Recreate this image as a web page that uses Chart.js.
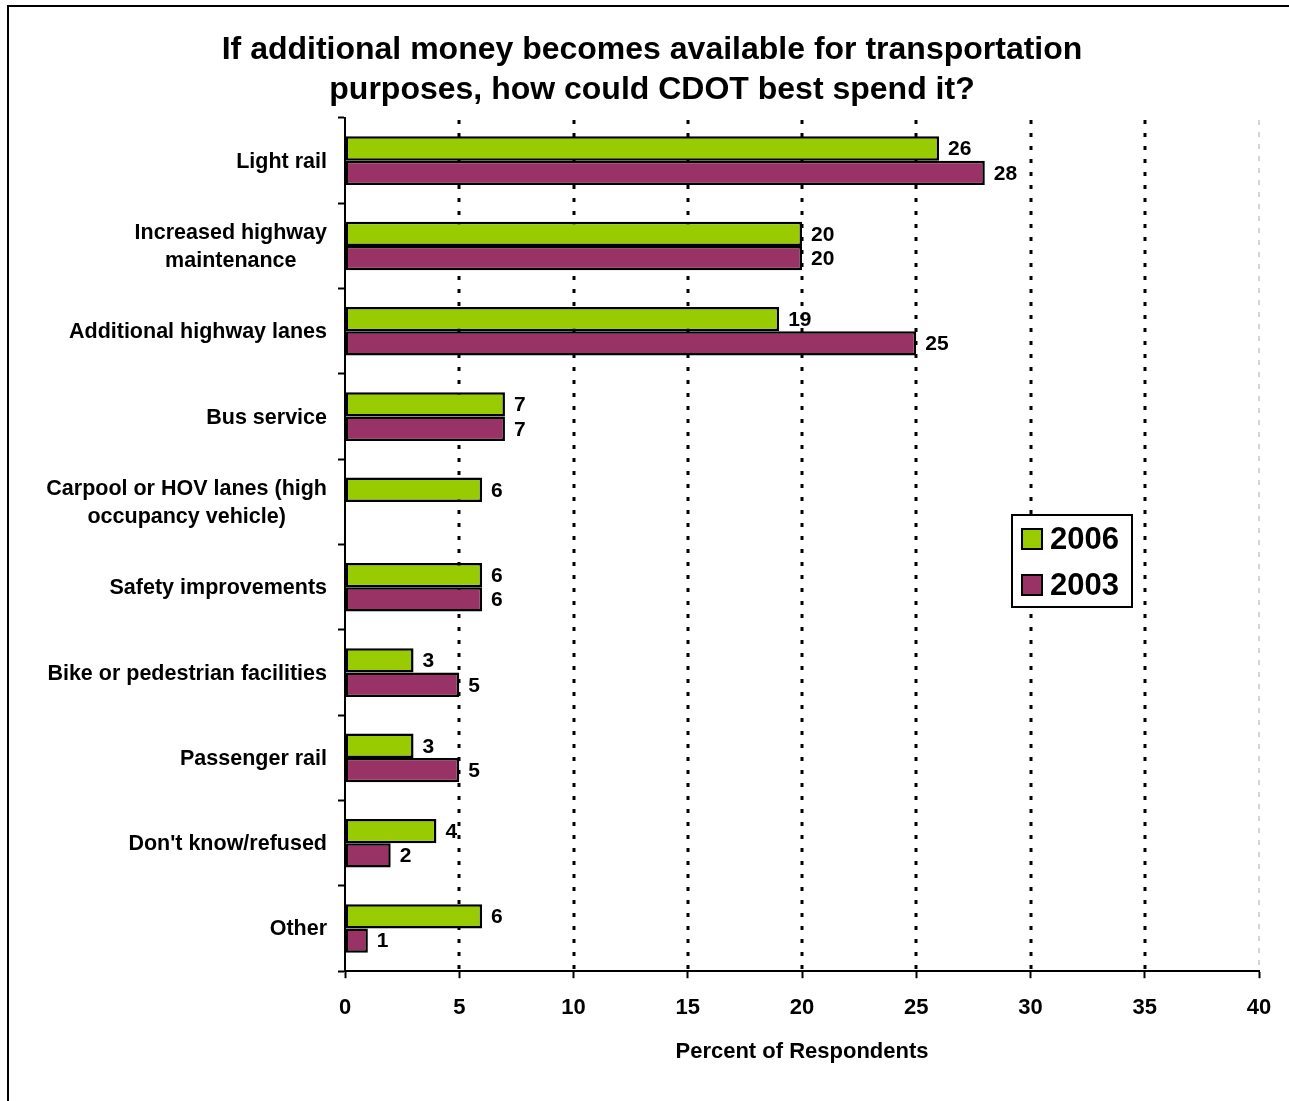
<!DOCTYPE html>
<html>
<head>
<meta charset="utf-8">
<title>CDOT spending priorities</title>
<script src="https://cdn.jsdelivr.net/npm/chart.js@4/dist/chart.umd.min.js"></script>
<style>
  html, body { margin: 0; padding: 0; background: #ffffff; }
  canvas { display: block; }
</style>
</head>
<body>
<canvas id="chart" width="1289" height="1101"></canvas>
<script>
// Survey answers (percent of respondents), one entry per category
const categories = [
  ['Light rail'],
  ['Increased highway', 'maintenance'],
  ['Additional highway lanes'],
  ['Bus service'],
  ['Carpool or HOV lanes (high', 'occupancy vehicle)'],
  ['Safety improvements'],
  ['Bike or pedestrian facilities'],
  ['Passenger rail'],
  ["Don't know/refused"],
  ['Other']
];
const values2006 = [26, 20, 19, 7, 6, 6, 3, 3, 4, 6];
const values2003 = [28, 20, 25, 7, null, 6, 5, 5, 2, 1];
const seriesNames = ['2006', '2003'];
const xTickValues = [0, 5, 10, 15, 20, 25, 30, 35, 40];

const FONT = "'Liberation Sans', Arial, Helvetica, sans-serif";
const GREEN = '#99CC00';
const PURPLE = '#993366';

// Outer frame (top and left edges)
const framePlugin = {
  id: 'frame',
  beforeDraw(chart) {
    const ctx = chart.ctx;
    ctx.save();
    ctx.fillStyle = '#ffffff';
    ctx.fillRect(0, 0, chart.width, chart.height);
    ctx.strokeStyle = '#000000';
    ctx.lineWidth = 2;
    ctx.beginPath();
    ctx.moveTo(8, chart.height);
    ctx.lineTo(8, 6);
    ctx.lineTo(chart.width, 6);
    ctx.stroke();
    ctx.restore();
  }
};

// Dotted vertical gridlines behind the bars
const dottedGridPlugin = {
  id: 'dottedGrid',
  beforeDatasetsDraw(chart) {
    const x = chart.scales.x;
    const area = chart.chartArea;
    const ctx = chart.ctx;
    ctx.save();
    x.ticks.forEach(t => {
      if (t.value === 0) return;
      const px = Math.round(x.getPixelForValue(t.value));
      const last = t.value === x.max;
      ctx.strokeStyle = last ? '#c8c8c8' : '#000000';
      ctx.lineWidth = last ? 1.5 : 3;
      ctx.setLineDash(last ? [5, 7] : [4, 9]);
      ctx.beginPath();
      ctx.moveTo(px, area.top + 2);
      ctx.lineTo(px, area.bottom);
      ctx.stroke();
    });
    ctx.restore();
  }
};

// Category labels: each block right-aligned to the axis, lines centred within it
const categoryLabelPlugin = {
  id: 'categoryLabels',
  afterDraw(chart) {
    const y = chart.scales.y;
    const ctx = chart.ctx;
    ctx.save();
    ctx.font = 'bold 21.5px ' + FONT;
    ctx.fillStyle = '#000000';
    ctx.textAlign = 'center';
    ctx.textBaseline = 'middle';
    const lineH = 28;
    categories.forEach((lines, i) => {
      const cy = y.getPixelForValue(i) + 1;
      const w = Math.max(...lines.map(l => ctx.measureText(l).width));
      const cx = y.right - 18 - w / 2;
      const top = cy - (lines.length - 1) * lineH / 2;
      lines.forEach((l, k) => ctx.fillText(l, cx, top + k * lineH));
    });
    ctx.restore();
  }
};

// Value labels at the end of each bar
const valueLabelPlugin = {
  id: 'valueLabels',
  afterDatasetsDraw(chart) {
    const ctx = chart.ctx;
    ctx.save();
    ctx.font = 'bold 21px ' + FONT;
    ctx.fillStyle = '#000000';
    ctx.textAlign = 'left';
    ctx.textBaseline = 'middle';
    chart.data.datasets.forEach((ds, di) => {
      const meta = chart.getDatasetMeta(di);
      meta.data.forEach((bar, j) => {
        const v = ds.data[j];
        if (v === null || v === undefined) return;
        ctx.fillText(String(v), bar.x + 9, bar.y + 1);
      });
    });
    ctx.restore();
  }
};

// Boxed legend inside the plot area
const boxLegendPlugin = {
  id: 'boxLegend',
  afterDraw(chart) {
    const ctx = chart.ctx;
    const bx = 1012, by = 515, bw = 120, bh = 92;
    ctx.save();
    ctx.fillStyle = '#ffffff';
    ctx.fillRect(bx, by, bw, bh);
    ctx.strokeStyle = '#000000';
    ctx.lineWidth = 2;
    ctx.strokeRect(bx, by, bw, bh);
    ctx.font = 'bold 31px ' + FONT;
    ctx.textAlign = 'left';
    ctx.textBaseline = 'middle';
    chart.data.datasets.forEach((ds, i) => {
      const cy = by + 24 + i * 46;
      ctx.fillStyle = ds.backgroundColor;
      ctx.fillRect(bx + 10, cy - 10, 20, 20);
      ctx.lineWidth = 2;
      ctx.strokeRect(bx + 10, cy - 10, 20, 20);
      ctx.fillStyle = '#000000';
      ctx.fillText(ds.label, bx + 38, cy + 1);
    });
    ctx.restore();
  }
};

new Chart(document.getElementById('chart'), {
  type: 'bar',
  data: {
    labels: categories,
    datasets: [
      {
        label: seriesNames[0],
        data: values2006,
        backgroundColor: GREEN,
        borderColor: '#000000',
        borderWidth: 2.5,
        borderSkipped: false,
        categoryPercentage: 0.57,
        barPercentage: 1.0
      },
      {
        label: seriesNames[1],
        data: values2003,
        backgroundColor: PURPLE,
        borderColor: '#000000',
        borderWidth: 2.5,
        borderSkipped: false,
        categoryPercentage: 0.57,
        barPercentage: 1.0
      }
    ]
  },
  options: {
    indexAxis: 'y',
    responsive: false,
    devicePixelRatio: 1,
    animation: false,
    layout: { padding: { left: 45, right: 30, top: 0, bottom: 36 } },
    plugins: {
      legend: { display: false },
      tooltip: { enabled: false },
      title: {
        display: true,
        text: ['If additional money becomes available for transportation',
               'purposes, how could CDOT best spend it?'],
        color: '#000000',
        font: { family: FONT, size: 32, weight: 'bold', lineHeight: 1.25 },
        padding: { top: 30, bottom: 8 }
      }
    },
    scales: {
      x: {
        type: 'linear',
        min: 0,
        max: 40,
        afterBuildTicks(scale) {
          scale.ticks = xTickValues.map(v => ({ value: v }));
        },
        ticks: {
          color: '#000000',
          font: { family: FONT, size: 22, weight: 'bold', lineHeight: 1.2 },
          padding: 17,
          maxRotation: 0,
          autoSkip: false
        },
        grid: {
          drawOnChartArea: false,
          drawTicks: true,
          tickLength: 7,
          tickColor: '#000000',
          tickWidth: 2,
          color: '#000000'
        },
        border: { display: true, color: '#000000', width: 2 },
        title: {
          display: true,
          text: 'Percent of Respondents',
          color: '#000000',
          font: { family: FONT, size: 22, weight: 'bold', lineHeight: 1.2 },
          padding: { top: 0, bottom: 0 }
        }
      },
      y: {
        type: 'category',
        offset: true,
        afterFit(scale) { scale.width = 300; },
        ticks: { display: false },
        grid: {
          offset: true,
          drawOnChartArea: false,
          drawTicks: true,
          tickLength: 7,
          tickColor: '#000000',
          tickWidth: 2,
          color: '#000000'
        },
        border: { display: true, color: '#000000', width: 2 }
      }
    }
  },
  plugins: [framePlugin, dottedGridPlugin, valueLabelPlugin, categoryLabelPlugin, boxLegendPlugin]
});
</script>
</body>
</html>
